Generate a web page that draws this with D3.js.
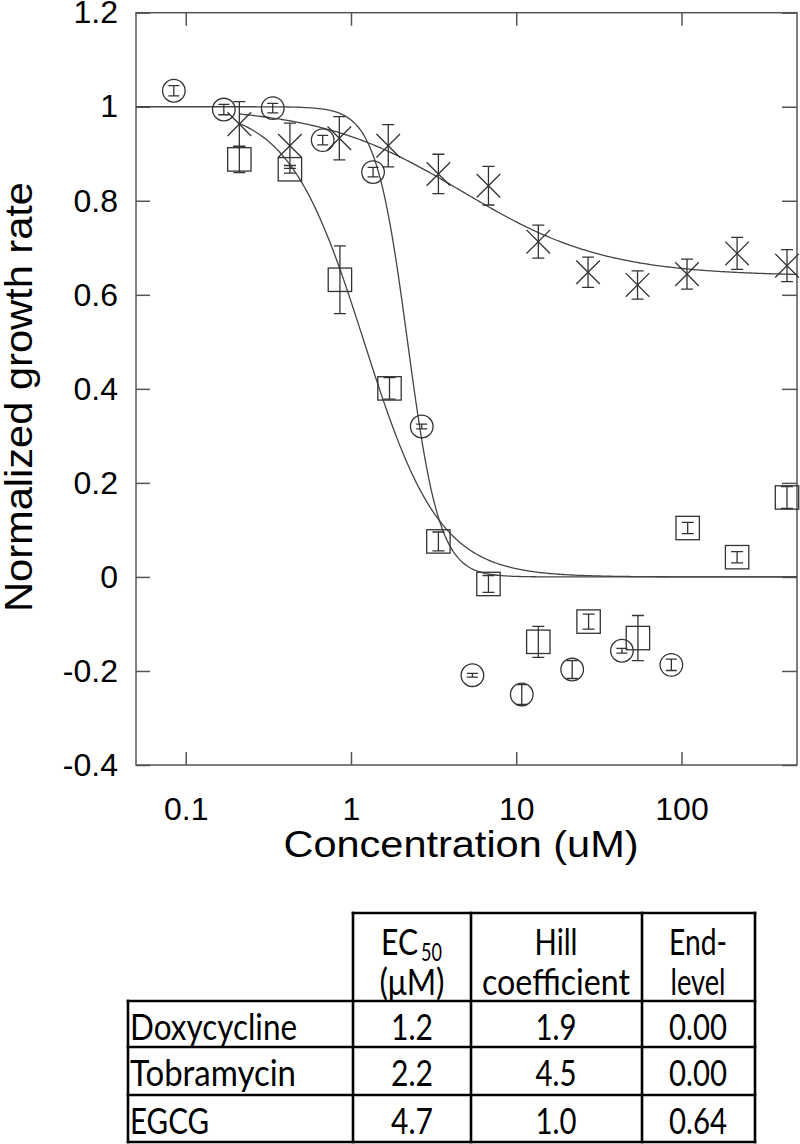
<!DOCTYPE html>
<html>
<head>
<meta charset="utf-8">
<script src="https://cdn.jsdelivr.net/npm/d3@7"></script>
<style>
  html, body { margin: 0; padding: 0; background: #fff; }
  svg { display: block; }
</style>
</head>
<body>
<div id="chart"></div>
<script>
// ---------- data ----------
const seriesNames = ["Doxycycline", "Tobramycin", "EGCG"];

const doxyConc = [0.211, 0.427, 0.857, 1.71, 3.38, 6.79, 13.6, 27.4, 54.5, 109, 217, 435];
const doxyRate = [0.888, 0.867, 0.632, 0.401, 0.0755, -0.015, -0.138, -0.095, -0.130, 0.104, 0.042, 0.169];
const doxyErr  = [0.028, 0.008, 0.072, 0.023, 0.020, 0.018, 0.033, 0.016, 0.048, 0.012, 0.012, 0.023];

const tobraConc = [0.0847, 0.17, 0.336, 0.674, 1.36, 2.68, 5.43, 10.8, 21.8, 43.6, 86.8];
const tobraRate = [1.034, 0.994, 0.997, 0.929, 0.861, 0.320, -0.209, -0.250, -0.197, -0.157, -0.187];
const tobraErr  = [0.011, 0.011, 0.010, 0.010, 0.010, 0.005, 0.004, 0.021, 0.019, 0.005, 0.012];

const egcgConc = [0.211, 0.427, 0.85, 1.68, 3.38, 6.79, 13.6, 27.2, 54.2, 108, 217, 435];
const egcgRate = [0.963, 0.917, 0.933, 0.917, 0.857, 0.832, 0.713, 0.648, 0.621, 0.644, 0.688, 0.662];
const egcgErr  = [0.048, 0.048, 0.046, 0.045, 0.042, 0.041, 0.035, 0.032, 0.030, 0.032, 0.034, 0.034];

// fitted Hill parameters (also the table)
const ec50      = [1.2, 2.2, 4.7];
const hillCoef  = [1.9, 4.5, 1.0];
const endLevel  = [0.00, 0.00, 0.64];
const curveStart = [0.211, 0.05, 0.211];

const xTicks = [0.1, 1, 10, 100];
const yTicks = [-0.4, -0.2, 0, 0.2, 0.4, 0.6, 0.8, 1.0, 1.2];
const xTitle = "Concentration (uM)";
const yTitle = "Normalized growth rate";

// ---------- layout ----------
const W = 800, H = 1144;
const L = 136, R = 797, T = 12.7, B = 765;
const svg = d3.select("#chart").append("svg").attr("width", W).attr("height", H);

const x = d3.scaleLog().domain([0.05, 500]).range([L, R]);
const y = d3.scaleLinear().domain([-0.4, 1.2]).range([B, T]);

const axisColor = "#555";
const markColor = "#333";
const tickFont = "'Liberation Sans', Arial, sans-serif";

// frame
svg.append("rect").attr("x", L).attr("y", T).attr("width", R - L).attr("height", B - T)
  .attr("fill", "none").attr("stroke", axisColor).attr("stroke-width", 1.5);

function styleAxis(g, showLabels) {
  g.select(".domain").remove();
  g.selectAll(".tick line").attr("stroke", axisColor).attr("stroke-width", 1.5);
  g.selectAll(".tick text").attr("fill", "#000").style("font-family", tickFont).style("font-size", "32px");
  if (!showLabels) g.selectAll(".tick text").remove();
}
const fmtY = d => String(+d.toFixed(1));
const fmtX = d => String(d);

svg.append("g").attr("transform", `translate(${L},0)`)
  .call(d3.axisLeft(y).tickValues(yTicks).tickSize(-14).tickPadding(18).tickFormat(fmtY))
  .call(g => styleAxis(g, true));
svg.append("g").attr("transform", `translate(${R},0)`)
  .call(d3.axisRight(y).tickValues(yTicks).tickSize(-15).tickFormat(""))
  .call(g => styleAxis(g, false));
svg.append("g").attr("transform", `translate(0,${B})`)
  .call(d3.axisBottom(x).tickValues(xTicks).tickSize(-13).tickPadding(32).tickFormat(fmtX))
  .call(g => styleAxis(g, true));
svg.append("g").attr("transform", `translate(0,${T})`)
  .call(d3.axisTop(x).tickValues(xTicks).tickSize(-13).tickFormat(""))
  .call(g => styleAxis(g, false));

// titles
svg.append("text").attr("x", 461).attr("y", 857).attr("text-anchor", "middle")
  .attr("textLength", 355).attr("lengthAdjust", "spacingAndGlyphs")
  .style("font-family", tickFont).style("font-size", "37px").text(xTitle);
svg.append("text").attr("transform", "translate(32,397) rotate(-90)").attr("text-anchor", "middle")
  .attr("textLength", 430).attr("lengthAdjust", "spacingAndGlyphs")
  .style("font-family", tickFont).style("font-size", "38px").text(yTitle);

// ---------- curves ----------
const plot = svg.append("g");
const line = d3.line().x(d => x(d[0])).y(d => y(d[1]));
seriesNames.forEach((name, i) => {
  const lo = Math.log10(curveStart[i]), hi = Math.log10(500);
  const pts = d3.range(0, 301).map(k => {
    const c = Math.pow(10, lo + (hi - lo) * k / 300);
    const v = endLevel[i] + (1 - endLevel[i]) / (1 + Math.pow(c / ec50[i], hillCoef[i]));
    return [c, v];
  });
  plot.append("path").attr("d", line(pts)).attr("fill", "none")
    .attr("stroke", "#444").attr("stroke-width", 1.3);
});

// ---------- points ----------
function points(conc, rate, err) { return conc.map((c, i) => ({ c, v: rate[i], e: err[i] })); }
const seriesData = [
  { data: points(doxyConc, doxyRate, doxyErr), shape: "square" },
  { data: points(tobraConc, tobraRate, tobraErr), shape: "circle" },
  { data: points(egcgConc, egcgRate, egcgErr), shape: "cross" }
];

seriesData.forEach(s => {
  const g = plot.append("g").attr("fill", "none").attr("stroke", markColor).attr("stroke-width", 1.3);
  const pg = g.selectAll("g").data(s.data).join("g");
  if (s.shape === "circle") {
    pg.append("circle").attr("cx", d => x(d.c)).attr("cy", d => y(d.v)).attr("r", 11.3);
  } else if (s.shape === "square") {
    pg.append("rect").attr("x", d => x(d.c) - 11.7).attr("y", d => y(d.v) - 11.7)
      .attr("width", 23.4).attr("height", 23.4);
  } else {
    pg.append("path").attr("d", d => {
      const cx = x(d.c), cy = y(d.v), h = 11.8;
      return `M${cx - h},${cy - h}L${cx + h},${cy + h}M${cx - h},${cy + h}L${cx + h},${cy - h}`;
    });
  }
  const cap = s.shape === "circle" ? 5.5 : 6;
  pg.append("path").attr("d", d => {
    const cx = x(d.c), y1 = y(d.v + d.e), y2 = y(d.v - d.e);
    return `M${cx},${y1}L${cx},${y2}M${cx - cap},${y1}L${cx + cap},${y1}M${cx - cap},${y2}L${cx + cap},${y2}`;
  });
});

// ---------- table ----------
const tFont = "Lato, 'Open Sans', sans-serif";
const tLines = svg.append("g").attr("stroke", "#000").attr("stroke-width", 2.6);
const colX = [128, 353, 471, 642, 755];
const rowY = [913, 1001, 1047, 1095, 1142];
tLines.append("line").attr("x1", colX[1] - 1.3).attr("x2", colX[4] + 1.3).attr("y1", rowY[0]).attr("y2", rowY[0]);
[1, 2, 3, 4].forEach(c => tLines.append("line").attr("x1", colX[c]).attr("x2", colX[c]).attr("y1", rowY[0] - 1.3).attr("y2", rowY[4] + 1.3));
tLines.append("line").attr("x1", colX[0]).attr("x2", colX[0]).attr("y1", rowY[1] - 1.3).attr("y2", rowY[4] + 1.3);
[1, 2, 3, 4].forEach(r => tLines.append("line").attr("x1", colX[0] - 1.3).attr("x2", colX[4] + 1.3).attr("y1", rowY[r]).attr("y2", rowY[r]));

const tText = svg.append("g").style("font-family", tFont).style("font-size", "36px").attr("fill", "#000");
function tt(str, xx, yy, anchor, len) {
  const t = tText.append("text").attr("x", xx).attr("y", yy).attr("text-anchor", anchor).text(str);
  if (len) t.attr("textLength", len).attr("lengthAdjust", "spacingAndGlyphs");
  return t;
}
// header
tt("EC", 381, 955, "start", 37);
tt("50", 421, 961, "start", 21).style("font-size", "25px");
tt("(\u03BCM)", 412, 995, "middle", 65);
tt("Hill", 556, 955, "middle", 43);
tt("coefficient", 556, 995, "middle", 148);
tt("End-", 698, 955, "middle", 58);
tt("level", 698, 995, "middle", 55);
// rows
const rowBase = [1039.5, 1086, 1133.5];
const nameLen = [167, 166, 79];
seriesNames.forEach((name, i) => {
  tt(name, 130, rowBase[i], "start", nameLen[i]);
  tt(ec50[i].toFixed(1), 412, rowBase[i], "middle", 42);
  tt(hillCoef[i].toFixed(1), 556, rowBase[i], "middle", 41);
  tt(endLevel[i].toFixed(2), 698, rowBase[i], "middle", 58);
});
</script>
</body>
</html>
